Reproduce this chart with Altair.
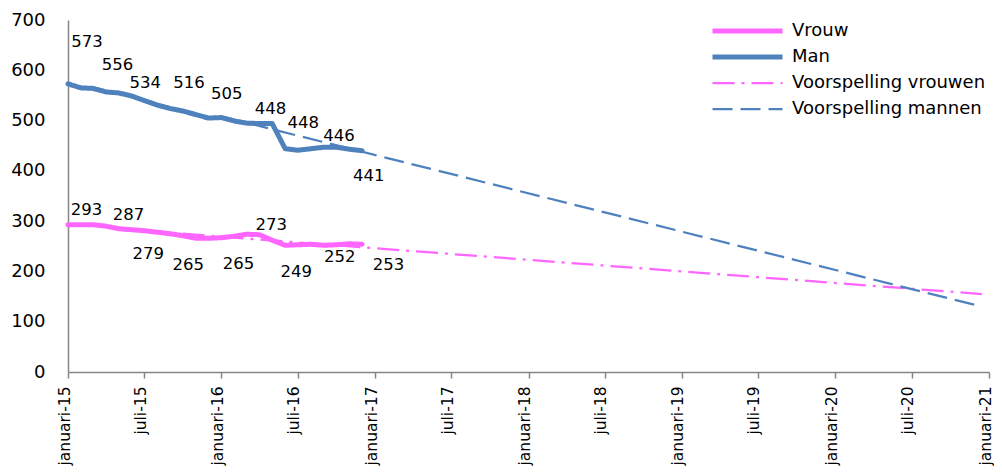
import altair as alt
import pandas as pd

# ---------------- data ----------------
months = [f"{y}-{m:02d}-01" for y in (2015, 2016) for m in range(1, 13)]
vrouw = [293, 293, 293, 290, 285, 283, 281, 278, 275, 271, 266, 266,
         267, 270, 274, 273, 262, 252, 253, 254, 252, 253, 255, 254]
man = [573, 565, 564, 557, 555, 549, 540, 531, 524, 519, 512, 505,
       506, 499, 495, 494, 494, 444, 441, 444, 447, 447, 443, 440]

fc_vrouw_dates = ["2015-10-01", "2020-12-15"]
fc_vrouw = [275, 155]
fc_man_dates = ["2016-01-01", "2020-12-15"]
fc_man = [508, 130]

series_names = ["Vrouw", "Man", "Voorspelling vrouwen", "Voorspelling mannen"]
series_colors = ["#FF66FF", "#4F81BD", "#FF66FF", "#4F81BD"]
series_dash = [[1, 0], [1, 0], [22, 7, 3, 7], [20, 8]]
series_width = [5, 5, 2.25, 2.25]

# data labels (text and anchor)
man_lbl_dates = ["2015-02-15", "2015-04-29", "2015-07-04", "2015-10-16", "2016-01-14",
                 "2016-04-27", "2016-07-14", "2016-10-07", "2016-12-17"]
man_lbl_text = ["573", "556", "534", "516", "505", "448", "448", "446", "441"]
man_lbl_y = [656, 611, 575, 575, 552, 523, 496, 470, 390]

vrouw_lbl_dates = ["2015-02-14", "2015-05-25", "2015-07-11", "2015-10-14", "2016-02-11",
                   "2016-04-29", "2016-06-27", "2016-10-09", "2017-02-02"]
vrouw_lbl_text = ["293", "287", "279", "265", "265", "273", "249", "252", "253"]
vrouw_lbl_y = [322, 312, 234, 213, 214, 292, 198, 228, 213]

tick_months = [(y, m) for y in range(2015, 2021) for m in (1, 7)] + [(2021, 1)]

# ---------------- tables ----------------
obs = pd.DataFrame({
    "date": months * 2,
    "value": vrouw + man,
    "series": ["Vrouw"] * len(vrouw) + ["Man"] * len(man),
})
fc = pd.DataFrame({
    "date": fc_vrouw_dates + fc_man_dates,
    "value": fc_vrouw + fc_man,
    "series": ["Voorspelling vrouwen"] * len(fc_vrouw) + ["Voorspelling mannen"] * len(fc_man),
})
lbl = pd.DataFrame({
    "date": man_lbl_dates + vrouw_lbl_dates,
    "value": man_lbl_y + vrouw_lbl_y,
    "text": man_lbl_text + vrouw_lbl_text,
})

FONT = "DejaVu Sans"

x_enc = alt.X(
    "date:T",
    title=None,
    scale=alt.Scale(
        type="utc",
        domain=[alt.DateTime(year=2015, month=1, date=1, utc=True),
                alt.DateTime(year=2021, month=1, date=1, utc=True)],
        nice=False,
    ),
    axis=alt.Axis(
        values=[alt.DateTime(year=y, month=m, date=1, utc=True) for y, m in tick_months],
        labelExpr="(utcmonth(datum.value) == 0 ? 'januari-' : 'juli-') + utcFormat(datum.value, '%y')",
        labelAngle=-90,
        labelFontSize=15.5,
        labelPadding=8,
        labelOffset=-4,
        tickSize=6,
        ticks=True,
        labelOverlap=False,
        labelFlush=False,
    ),
)
y_enc = alt.Y(
    "value:Q",
    title=None,
    scale=alt.Scale(domain=[0, 700], nice=False),
    axis=alt.Axis(values=list(range(0, 701, 100)), ticks=False, labelFontSize=18,
                  labelPadding=23),
)

legend = alt.Legend(
    title=None, orient="none", legendX=642, legendY=1,
    symbolType="stroke", symbolSize=4900, clipHeight=20, rowPadding=6,
    labelFont=FONT, labelFontSize=18, labelColor="#000000", labelOffset=7,
    labelLimit=0, padding=0,
)
color_enc = alt.Color("series:N", scale=alt.Scale(domain=series_names, range=series_colors),
                      legend=legend, sort=series_names)
dash_enc = alt.StrokeDash("series:N", scale=alt.Scale(domain=series_names, range=series_dash),
                          legend=legend, sort=series_names)
width_enc = alt.StrokeWidth("series:N",
                            scale=alt.Scale(type="ordinal", domain=series_names, range=series_width),
                            legend=legend, sort=series_names)

main_lines = alt.Chart(obs).mark_line(strokeCap="round", strokeJoin="round").encode(
    x=x_enc, y=y_enc, color=color_enc, strokeDash=dash_enc, strokeWidth=width_enc,
    detail="series:N",
)
fc_lines = alt.Chart(fc).mark_line().encode(
    x=x_enc, y=y_enc, color=color_enc, strokeDash=dash_enc, strokeWidth=width_enc,
    detail="series:N",
)
labels = alt.Chart(lbl).mark_text(
    font=FONT, fontSize=16.5, color="#000000", align="center", baseline="middle"
).encode(x=x_enc, y=y_enc, text="text:N")

chart = alt.layer(main_lines, fc_lines, labels).properties(
    width=921, height=352,
    autosize=alt.AutoSizeParams(type="none"),
    padding={"left": 60, "top": 12, "right": 5, "bottom": 94},
    background="white",
).configure_view(stroke=None).configure_axis(
    labelFont=FONT, labelColor="#000000", domainColor="#868686", domainWidth=1.5,
    tickColor="#868686", tickWidth=1.5, grid=False,
)

chart.save("out.html", embed_options={"renderer": "svg", "actions": False})
